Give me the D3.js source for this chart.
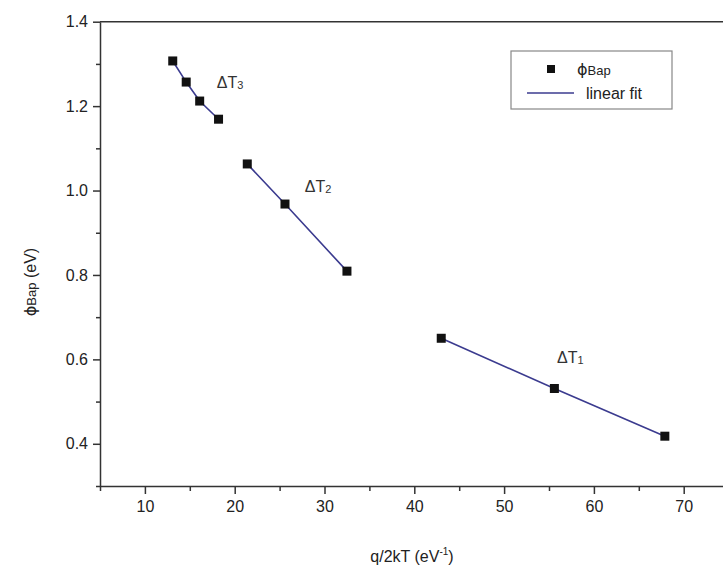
<!DOCTYPE html>
<html>
<head>
<meta charset="utf-8" />
<title>phi Bap vs q/2kT</title>
<script src="https://d3js.org/d3.v7.min.js"></script>
<style type="text/css">
    body { margin: 0; background: #fff; }
    svg text { font-family: "Liberation Sans", Arial, sans-serif; fill: #222; }
    .axis path, .axis line { stroke: #333; stroke-width: 1.5; }
    .fit { fill: none; stroke: #3b3b8f; stroke-width: 1.6; }
    .dot { fill: #111; }
</style>
</head>
<body>
<svg></svg>
<script>
// readings from the picture, one group per temperature range
var segT3x = [13.1, 14.6, 16.1, 18.2];
var segT3y = [1.307, 1.257, 1.212, 1.169];
var segT2x = [21.4, 25.6, 32.5];
var segT2y = [1.063, 0.968, 0.809];
var segT1x = [43.0, 55.6, 67.9];
var segT1y = [0.650, 0.531, 0.418];

var segNames = ['3', '2', '1'];
var labelPos = [[18.0, 1.243], [27.8, 0.996], [55.9, 0.591]];   // data coords of the ΔT labels

var xTicks = [10, 20, 30, 40, 50, 60, 70];
var yTicks = [0.4, 0.6, 0.8, 1.0, 1.2, 1.4];

var W = 723, H = 577;
var plotLeft = 100, plotTop = 21.7, plotBottom = 486;

var svg = d3.select('svg').attr('width', W).attr('height', H);

var x = d3.scaleLinear().domain([5, 80]).range([plotLeft, plotLeft + 75 * 8.98]);
var y = d3.scaleLinear().domain([0.3, 1.4]).range([plotBottom, plotTop]);

// minor ticks first, then the major axes on top
svg.append('g')
    .attr('class', 'axis')
    .attr('transform', 'translate(0,' + plotBottom + ')')
    .call(d3.axisBottom(x).tickValues(d3.range(5, 80, 10)).tickSize(5).tickFormat(''))
    .select('.domain').remove();

svg.append('g')
    .attr('class', 'axis')
    .attr('transform', 'translate(' + plotLeft + ',0)')
    .call(d3.axisLeft(y).tickValues([0.3, 0.5, 0.7, 0.9, 1.1, 1.3]).tickSize(4).tickFormat(''))
    .select('.domain').remove();

var xAxis = svg.append('g')
    .attr('class', 'axis')
    .attr('transform', 'translate(0,' + plotBottom + ')')
    .call(d3.axisBottom(x).tickValues(xTicks).tickSize(8).tickSizeOuter(0).tickPadding(7));
xAxis.selectAll('text').style('font-size', '16px').attr('fill', '#222');

var yAxis = svg.append('g')
    .attr('class', 'axis')
    .attr('transform', 'translate(' + plotLeft + ',0)')
    .call(d3.axisLeft(y).tickValues(yTicks).tickSize(7).tickSizeOuter(0).tickPadding(5)
        .tickFormat(d3.format('.1f')));
yAxis.selectAll('text').style('font-size', '16px').attr('fill', '#222');

// top frame line
svg.append('line')
    .attr('x1', x(5)).attr('x2', x(80))
    .attr('y1', y(1.4)).attr('y2', y(1.4))
    .attr('stroke', '#333').attr('stroke-width', 1.5);

var segments = [[segT3x, segT3y], [segT2x, segT2y], [segT1x, segT1y]];

var line = d3.line()
    .x(function (d) { return x(d[0]); })
    .y(function (d) { return y(d[1]); });

segments.forEach(function (s, i) {
    var pts = s[0].map(function (v, j) { return [v, s[1][j]]; });

    svg.append('path')
        .datum(pts)
        .attr('class', 'fit')
        .attr('d', line);

    svg.selectAll('.dot' + i)
        .data(pts)
        .enter()
        .append('rect')
        .attr('class', 'dot')
        .attr('x', function (d) { return x(d[0]) - 4.5; })
        .attr('y', function (d) { return y(d[1]) - 4.5; })
        .attr('width', 9)
        .attr('height', 9);

    var t = svg.append('text')
        .attr('x', x(labelPos[i][0]))
        .attr('y', y(labelPos[i][1]))
        .style('font-size', '16px')
        .style('fill', '#333');
    t.append('tspan').text('\u0394T');
    t.append('tspan').text(segNames[i]).style('font-size', '11px').attr('dy', 1);
});

// axis titles
var xt = svg.append('text')
    .attr('x', 412).attr('y', 562)
    .attr('text-anchor', 'middle')
    .style('font-size', '16px');
xt.append('tspan').text('q/2kT (eV');
xt.append('tspan').text('-1').style('font-size', '10px').attr('dy', -7);
xt.append('tspan').text(')').attr('dy', 7);

var yt = svg.append('text')
    .attr('transform', 'translate(36,282) rotate(-90)')
    .attr('text-anchor', 'middle')
    .style('font-size', '16px');
yt.append('tspan').text('\u03D5').style('font-family', '"DejaVu Sans", sans-serif');
yt.append('tspan').text('Bap').style('font-size', '13px');
yt.append('tspan').text(' (eV)');

// legend
var lg = svg.append('g');
lg.append('rect')
    .attr('x', 511).attr('y', 51).attr('width', 161).attr('height', 58)
    .attr('fill', '#fff').attr('stroke', '#888').attr('stroke-width', 1.2);
lg.append('rect')
    .attr('x', 547).attr('y', 65).attr('width', 8).attr('height', 8)
    .attr('class', 'dot');
var lt = lg.append('text').attr('x', 577).attr('y', 75).style('font-size', '16px');
lt.append('tspan').text('\u03D5').style('font-family', '"DejaVu Sans", sans-serif');
lt.append('tspan').text('Bap').style('font-size', '13px');
lg.append('line')
    .attr('x1', 527).attr('x2', 574).attr('y1', 93).attr('y2', 93)
    .attr('class', 'fit');
lg.append('text').attr('x', 586).attr('y', 99).style('font-size', '16px').text('linear fit');
</script>
</body>
</html>
